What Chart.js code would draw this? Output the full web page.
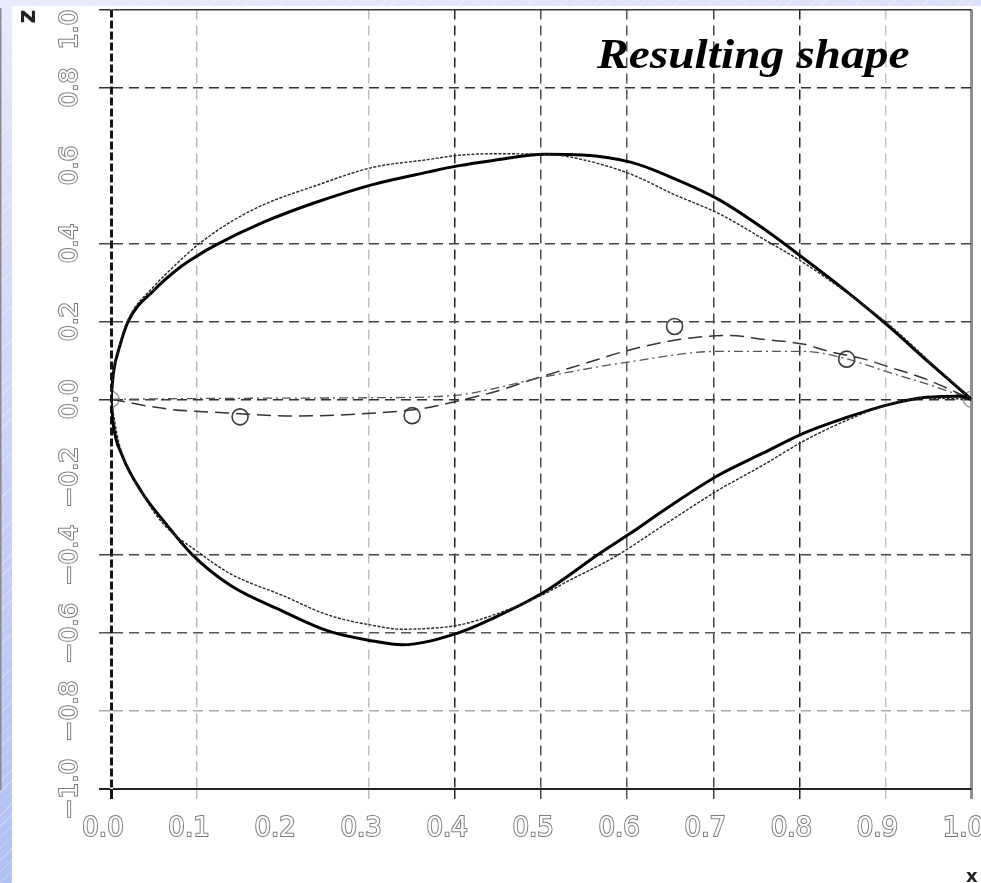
<!DOCTYPE html>
<html>
<head>
<meta charset="utf-8">
<title>Resulting shape</title>
<script src="https://cdn.jsdelivr.net/npm/chart.js@4.4.1/dist/chart.umd.min.js"></script>
<style>
  html, body { margin: 0; padding: 0; }
  body {
    width: 981px; height: 883px; overflow: hidden; position: relative;
    background:
      repeating-linear-gradient(135deg, rgba(255,255,255,0.3) 0 1px, rgba(255,255,255,0) 1px 8px),
      linear-gradient(170deg, #e8eafc 0%, #d2d9fa 30%, #a7b8f4 100%);
  }
  #sheet { position: absolute; left: 12px; top: 6px; right: 0; bottom: 0; background: #fff; }
  #chart { position: absolute; left: 0; top: 0; }
  #caption {
    position: absolute; left: 597px; top: 33px; white-space: nowrap;
    font: italic bold 42px/42px "Liberation Serif", "Times New Roman", serif; color: #000;
    transform: scaleX(1.13); transform-origin: 0 0;
  }
  #xname {
    position: absolute; left: 966px; top: 867px;
    font: bold 18px/18px "DejaVu Sans", sans-serif; color: #222;
  }
</style>
</head>
<body>
<div id="sheet"></div>
<canvas id="chart" width="981" height="883"></canvas>
<div id="caption">Resulting shape</div>
<div id="xname">x</div>
<script>
// Profile coordinates (x along chord, z thickness)
const resultUpperX = [0, 0.003, 0.01, 0.02, 0.05, 0.081, 0.1, 0.121, 0.178, 0.235, 0.304, 0.368, 0.403, 0.444, 0.504, 0.548, 0.605, 0.654, 0.706, 0.757, 0.806, 0.853, 0.905, 0.948, 1.0];
const resultUpperZ = [0, 0.07, 0.135, 0.2, 0.28, 0.34, 0.368, 0.395, 0.455, 0.503, 0.551, 0.583, 0.599, 0.613, 0.629, 0.627, 0.608, 0.567, 0.513, 0.44, 0.36, 0.28, 0.185, 0.1, 0];

const resultLowerX = [0, 0.003, 0.013, 0.036, 0.063, 0.095, 0.139, 0.2, 0.253, 0.304, 0.338, 0.403, 0.444, 0.504, 0.567, 0.605, 0.643, 0.706, 0.757, 0.806, 0.853, 0.905, 0.948, 0.986, 1.0];
const resultLowerZ = [0, -0.07, -0.144, -0.239, -0.317, -0.40, -0.478, -0.544, -0.595, -0.62, -0.63, -0.60, -0.562, -0.494, -0.397, -0.342, -0.284, -0.195, -0.139, -0.086, -0.048, -0.013, 0.005, 0.008, 0];

const initUpperX = [0, 0.003, 0.01, 0.02, 0.05, 0.074, 0.1, 0.139, 0.178, 0.235, 0.304, 0.368, 0.403, 0.444, 0.504, 0.548, 0.605, 0.654, 0.706, 0.757, 0.806, 0.853, 0.905, 0.948, 1.0];
const initUpperZ = [0, 0.07, 0.14, 0.205, 0.29, 0.343, 0.395, 0.455, 0.50, 0.546, 0.595, 0.615, 0.626, 0.630, 0.629, 0.615, 0.577, 0.526, 0.477, 0.413, 0.349, 0.277, 0.19, 0.104, 0];

const initLowerX = [0, 0.009, 0.04, 0.063, 0.1, 0.139, 0.2, 0.253, 0.304, 0.338, 0.368, 0.403, 0.444, 0.504, 0.528, 0.585, 0.643, 0.706, 0.757, 0.806, 0.853, 0.905, 0.948, 1.0];
const initLowerZ = [0, -0.11, -0.255, -0.325, -0.39, -0.448, -0.504, -0.554, -0.58, -0.59, -0.588, -0.58, -0.554, -0.499, -0.47, -0.405, -0.322, -0.233, -0.17, -0.106, -0.056, -0.013, 0.003, 0];

// camber line through the control polygon (long dashes)
const camberX = [0, 0.066, 0.135, 0.212, 0.307, 0.364, 0.402, 0.45, 0.49, 0.548, 0.605, 0.662, 0.72, 0.757, 0.806, 0.834, 0.872, 0.91, 0.948, 1.0];
const camberZ = [0, -0.025, -0.035, -0.043, -0.035, -0.023, -0.005, 0.022, 0.051, 0.09, 0.128, 0.154, 0.164, 0.154, 0.141, 0.123, 0.105, 0.079, 0.051, 0];

// starting camber line (dash-dot)
const baseCamberX = [0, 0.1, 0.2, 0.3, 0.4, 0.45, 0.49, 0.605, 0.706, 0.806, 0.853, 0.9, 0.95, 1.0];
const baseCamberZ = [0, 0.002, 0.003, 0.004, 0.01, 0.03, 0.051, 0.097, 0.123, 0.123, 0.105, 0.072, 0.038, 0];

// control points
const ctrlX = [0, 0.15, 0.35, 0.655, 0.855, 1.0];
const ctrlZ = [0, -0.045, -0.042, 0.187, 0.103, 0];

const xTickLabels = ['0.0', '0.1', '0.2', '0.3', '0.4', '0.5', '0.6', '0.7', '0.8', '0.9', '1.0'];
// top label padded so it sits inside the frame
const yTickLabels = ['\u22121.0', '\u22120.8', '\u22120.6', '\u22120.4', '\u22120.2', '0.0', '0.2', '0.4', '0.6', '0.8', '1.0\u00a0\u00a0\u00a0\u00a0\u00a0'];

const pts = (xs, zs) => xs.map((x, i) => ({ x: x, y: zs[i] }));

function curve(label, xs, zs, color, width, dash) {
  return {
    label: label,
    data: pts(xs, zs),
    showLine: true,
    borderColor: color,
    borderWidth: width,
    borderDash: dash,
    pointRadius: 0,
    cubicInterpolationMode: 'monotone',
    fill: false,
  };
}

// per-line grid look, keyed by tick value * 10
const NONE = 'rgba(0,0,0,0)';
const xLineColor = { 0: '#151515', 1: '#bdbdbd', 2: NONE, 3: '#bdbdbd', 4: '#262626', 5: '#4a4a4a', 6: '#555', 7: '#444', 8: '#222', 9: '#c6c6c6', 10: '#8f8f8f' };
const yLineColor = { '-10': '#222', '-8': '#aaa', '-6': '#555', '-4': '#444', '-2': NONE, 0: '#333', 2: '#444', 4: '#444', 6: NONE, 8: '#333', 10: '#333' };
const key = (ctx) => (ctx.tick ? Math.round(ctx.tick.value * 10) : null);

new Chart(document.getElementById('chart'), {
  type: 'scatter',
  data: {
    datasets: [
      curve('initial upper', initUpperX, initUpperZ, '#262626', 1.4, [3, 1.5]),
      curve('initial lower', initLowerX, initLowerZ, '#262626', 1.4, [3, 1.5]),
      curve('result upper', resultUpperX, resultUpperZ, '#000', 3, []),
      curve('result lower', resultLowerX, resultLowerZ, '#000', 3, []),
      curve('initial camber', baseCamberX, baseCamberZ, '#555', 1.3, [9, 4, 2, 4]),
      curve('camber', camberX, camberZ, '#333', 1.5, [14, 7]),
      {
        label: 'control points',
        data: pts(ctrlX, ctrlZ),
        showLine: false,
        pointStyle: 'circle',
        pointRadius: 8,
        pointBorderWidth: 1.6,
        pointBackgroundColor: NONE,
        pointBorderColor: ['#a0a0a0', '#3a3a3a', '#3a3a3a', '#3a3a3a', '#3a3a3a', '#a0a0a0'],
      },
    ],
  },
  options: {
    responsive: false,
    animation: false,
    devicePixelRatio: 1,
    layout: { padding: { top: 9, right: -4, bottom: 0, left: 0 } },
    plugins: { legend: { display: false }, tooltip: { enabled: false } },
    scales: {
      x: {
        type: 'linear',
        min: 0,
        max: 1,
        afterFit: (scale) => { scale.height = 94; scale.paddingLeft = 0; scale.paddingRight = 0; },
        ticks: {
          stepSize: 0.1,
          autoSkip: false,
          maxRotation: 0,
          padding: 15,
          labelOffset: -8,
          font: { family: '"DejaVu Sans", sans-serif', size: 26 },
          color: '#fff',
          textStrokeColor: '#7c7c7c',
          textStrokeWidth: 2,
          callback: (v, i) => xTickLabels[i],
        },
        grid: {
          color: (ctx) => xLineColor[key(ctx)] || NONE,
          lineWidth: (ctx) => (key(ctx) === 0 || key(ctx) === 10 ? 3 : 1.5),
          tickLength: 10,
        },
        border: {
          display: false,
          dash: (ctx) => { const k = key(ctx); return k === 0 ? [8, 3] : k === 10 ? [] : [10, 6]; },
        },
      },
      y: {
        type: 'linear',
        min: -1,
        max: 1,
        afterFit: (scale) => { scale.width = 111; scale.paddingTop = 0; scale.paddingBottom = 0; },
        ticks: {
          stepSize: 0.2,
          autoSkip: false,
          minRotation: 90,
          maxRotation: 90,
          crossAlign: 'center',
          padding: -11,
          font: { family: '"DejaVu Sans", sans-serif', size: 25 },
          color: '#fff',
          textStrokeColor: '#7c7c7c',
          textStrokeWidth: 2,
          callback: (v, i) => yTickLabels[i],
        },
        grid: {
          color: (ctx) => yLineColor[key(ctx)] || NONE,
          lineWidth: (ctx) => (key(ctx) === -10 ? 2 : 1.5),
          tickLength: 12,
        },
        border: {
          display: true,
          color: '#8a8a8a',
          width: 3,
          z: -2,
          dash: (ctx) => { const k = key(ctx); return k === 10 || k === -10 ? [] : [10, 6]; },
        },
        title: {
          display: true,
          text: 'z',
          align: 'end',
          color: '#222',
          font: { family: '"DejaVu Sans", sans-serif', size: 24, weight: 'bold' },
          padding: { top: 14, bottom: 0 },
        },
      },
    },
  },
});
</script>
</body>
</html>
